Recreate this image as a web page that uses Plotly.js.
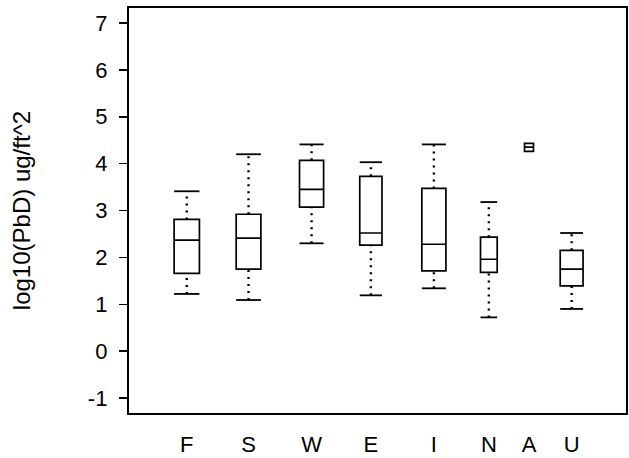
<!DOCTYPE html>
<html>
<head>
<meta charset="utf-8">
<script src="https://cdn.plot.ly/plotly-3.0.1.min.js"></script>
<style>html,body{margin:0;padding:0;background:#fff;}#chart{width:629px;height:458px;}</style>
</head>
<body>
<div id="chart"></div>
<script>
// ---- data ----
const categories   = ['F', 'S', 'W', 'E', 'I', 'N', 'A', 'U'];
const lowerWhisker = [1.22, 1.09, 2.30, 1.19, 1.34, 0.72, 4.26, 0.90];
const q1Values     = [1.66, 1.75, 3.07, 2.26, 1.71, 1.68, 4.26, 1.39];
const medianValues = [2.37, 2.41, 3.45, 2.52, 2.28, 1.96, 4.35, 1.75];
const q3Values     = [2.81, 2.92, 4.07, 3.73, 3.47, 2.43, 4.43, 2.15];
const upperWhisker = [3.41, 4.20, 4.41, 4.03, 4.41, 3.18, 4.43, 2.52];
const yTickValues  = [-1, 0, 1, 2, 3, 4, 5, 6, 7];
const yTickLabels  = ['-1', '0', '1', '2', '3', '4', '5', '6', '7'];

// ---- layout of the groups (positions / widths on the x axis) ----
const xPos   = [1, 2, 3.02, 3.98, 5.0, 5.89, 6.54, 7.23];
const boxW   = [0.41, 0.40, 0.39, 0.36, 0.39, 0.27, 0.145, 0.37];

const traces = [];
categories.forEach((c, i) => {
  traces.push({
    type: 'box',
    name: c,
    x: [xPos[i]],
    q1: [q1Values[i]],
    median: [medianValues[i]],
    q3: [q3Values[i]],
    lowerfence: [q1Values[i]],
    upperfence: [q3Values[i]],
    width: boxW[i],
    boxpoints: false,
    fillcolor: 'rgba(0,0,0,0)',
    line: {color: '#000', width: 1.7},
    hoverinfo: 'skip'
  });
});

// dotted whiskers and solid caps
const wx = [], wy = [];
const cx = [], cy = [];
categories.forEach((c, i) => {
  if (upperWhisker[i] > q3Values[i]) {
    wx.push(xPos[i], xPos[i], null); wy.push(q3Values[i], upperWhisker[i], null);
    cx.push(xPos[i] - boxW[i] / 2, xPos[i] + boxW[i] / 2, null); cy.push(upperWhisker[i], upperWhisker[i], null);
  }
  if (lowerWhisker[i] < q1Values[i]) {
    wx.push(xPos[i], xPos[i], null); wy.push(lowerWhisker[i], q1Values[i], null);
    cx.push(xPos[i] - boxW[i] / 2, xPos[i] + boxW[i] / 2, null); cy.push(lowerWhisker[i], lowerWhisker[i], null);
  }
});
traces.push({
  type: 'scatter', mode: 'lines', x: wx, y: wy,
  line: {color: '#000', width: 2.4, dash: '2px,5px'}, hoverinfo: 'skip'
});
traces.push({
  type: 'scatter', mode: 'lines', x: cx, y: cy,
  line: {color: '#000', width: 1.8}, hoverinfo: 'skip'
});

const layout = {
  width: 629, height: 458,
  margin: {l: 129, r: 1, t: 8, b: 45},
  paper_bgcolor: '#fff', plot_bgcolor: '#fff',
  showlegend: false,
  font: {family: '"Liberation Sans", Arial, sans-serif', color: '#000'},
  xaxis: {
    range: [0.065, 8.11],
    tickmode: 'array', tickvals: xPos, ticktext: categories,
    ticks: '', showgrid: false, zeroline: false,
    showline: true, linecolor: '#000', linewidth: 1.6, mirror: true,
    tickfont: {size: 22, color: '#000'},
    ticklabelstandoff: 11
  },
  yaxis: {
    range: [-1.32, 7.32],
    tickmode: 'array', tickvals: yTickValues, ticktext: yTickLabels,
    ticks: 'outside', ticklen: 8, tickwidth: 1.5, tickcolor: '#000',
    showgrid: false, zeroline: false,
    showline: true, linecolor: '#000', linewidth: 2.2, mirror: true,
    tickfont: {size: 22, color: '#000'},
    ticklabelstandoff: 7,
    automargin: true,
    title: {text: 'log10(PbD) ug/ft^2', font: {size: 24, color: '#000'}, standoff: 51}
  }
};

Plotly.newPlot('chart', traces, layout, {displayModeBar: false, staticPlot: true});
</script>
</body>
</html>
